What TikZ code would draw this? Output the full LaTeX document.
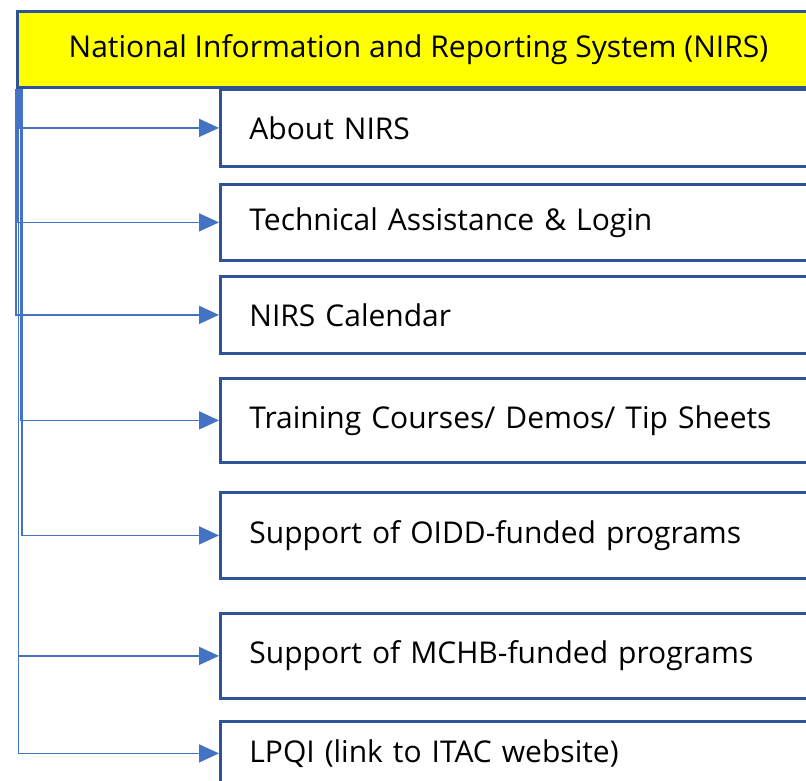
\documentclass[tikz,border=0pt]{standalone}
\usepackage{fontspec}
\setmainfont{Open Sans}
\usetikzlibrary{arrows.meta}
\definecolor{boxblue}{HTML}{2F5496}
\definecolor{linkblue}{HTML}{4472C4}
\definecolor{headyellow}{HTML}{FFFF00}
\begin{document}
\begin{tikzpicture}[x=1pt,y=-1pt,
  every node/.style={font=\fontsize{30}{36}\selectfont},
  headbox/.style={draw=boxblue,line width=2.8pt,fill=headyellow,anchor=north west,
    minimum width=802pt,minimum height=76pt,inner sep=0pt},
  itembox/.style={draw=boxblue,line width=2.8pt,fill=white,anchor=north west,
    text width=590pt,align=left,inner xsep=29pt,inner ysep=0pt},
  conn/.style={draw=linkblue,line width=1.6pt,-{Triangle[length=20pt,width=18pt]}}]
\useasboundingbox (0,0) rectangle (806,781);
\node[headbox] (head) at (16,10) {National Information and Reporting System (NIRS)};
\node[itembox,minimum height=77pt] (b1) at (219,88) {About NIRS};
\node[itembox,minimum height=76pt] (b2) at (219,183) {Technical Assistance \& Login};
\node[itembox,minimum height=77pt] (b3) at (219,275) {NIRS Calendar};
\node[itembox,minimum height=84pt] (b4) at (219,377) {Training Courses/ Demos/ Tip Sheets};
\node[itembox,minimum height=86pt] (b5) at (219,491) {Support of OIDD-funded programs};
\node[itembox,minimum height=85pt] (b6) at (219,612) {Support of MCHB-funded programs};
\node[itembox,minimum height=64pt] (b7) at (219,720) {LPQI (link to ITAC website)};
\draw[conn] ([xshift=4pt]head.south west) |- (b1.west);
\draw[conn] ([xshift=1.5pt]head.south west) |- (b2.west);
\draw[conn] ([xshift=0pt]head.south west) |- (b3.west);
\draw[conn] ([xshift=4.5pt]head.south west) |- (b4.west);
\draw[conn] ([xshift=6pt]head.south west) |- (b5.west);
\draw[conn] ([xshift=2.5pt]head.south west) |- (b6.west);
\draw[conn] ([xshift=2.5pt]head.south west) |- (b7.west);
\end{tikzpicture}
\end{document}
